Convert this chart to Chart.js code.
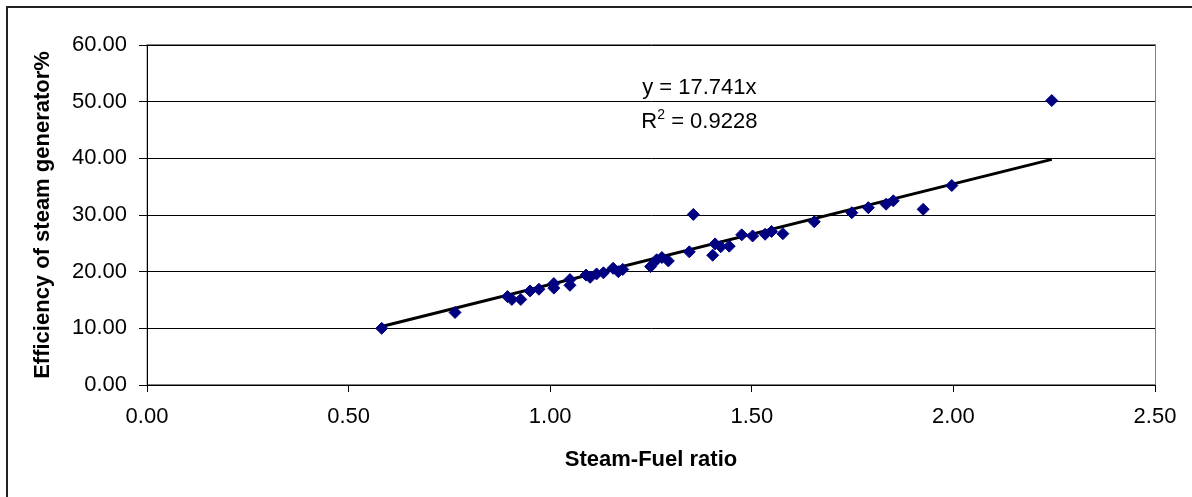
<!DOCTYPE html>
<html>
<head>
<meta charset="utf-8">
<script src="https://cdn.jsdelivr.net/npm/chart.js@4/dist/chart.umd.min.js"></script>
<style>
  body { margin: 0; background: #fff; }
  canvas { display: block; }
</style>
</head>
<body>
<canvas id="chart" width="1192" height="497"></canvas>
<script>
// steam-fuel ratio vs efficiency readings
const ratio = [0.582, 0.764, 0.894, 0.905, 0.927, 0.950, 0.972, 1.009, 1.009, 1.049,
  1.049, 1.089, 1.099, 1.115, 1.132, 1.156, 1.169, 1.180, 1.249, 1.264,
  1.277, 1.293, 1.345, 1.355, 1.403, 1.409, 1.423, 1.444, 1.475, 1.502,
  1.533, 1.549, 1.577, 1.655, 1.748, 1.789, 1.833, 1.851, 1.925, 1.996, 2.244];
const efficiency = [10.0, 12.8, 15.6, 15.1, 15.1, 16.6, 16.9, 17.9, 17.1, 18.6,
  17.6, 19.4, 19.0, 19.6, 19.8, 20.6, 20.0, 20.4, 20.9, 22.1,
  22.5, 21.9, 23.5, 30.1, 22.9, 24.9, 24.4, 24.5, 26.5, 26.3,
  26.6, 27.1, 26.7, 28.8, 30.4, 31.3, 31.9, 32.5, 31.0, 35.2, 50.2];
const slope = 17.741;
const rSquared = '0.9228';

const points = ratio.map((x, i) => ({ x: x, y: efficiency[i] }));
const xMin = Math.min(...ratio), xMax = Math.max(...ratio);
const trend = [{ x: xMin, y: slope * xMin }, { x: xMax, y: slope * xMax }];

const FONT = '"Liberation Sans", Arial, sans-serif';

// outer frame + grey plot area border
const framePlugin = {
  id: 'frame',
  beforeDraw(chart) {
    const ctx = chart.ctx, a = chart.chartArea;
    ctx.save();
    ctx.strokeStyle = '#222';
    ctx.lineWidth = 2;
    ctx.strokeRect(7, 7, 1300, 600);
    ctx.strokeStyle = '#808080';
    ctx.lineWidth = 1;
    ctx.strokeRect(a.left, a.top - 0.5, a.right - a.left + 0.5, a.bottom - a.top);
    ctx.restore();
  }
};

// trendline equation text
const eqPlugin = {
  id: 'equation',
  afterDatasetsDraw(chart) {
    const ctx = chart.ctx;
    const xs = chart.scales.x, ys = chart.scales.y;
    const cx = xs.getPixelForValue(1.37);
    ctx.save();
    ctx.fillStyle = '#000';
    ctx.textBaseline = 'middle';
    ctx.font = '22px ' + FONT;
    ctx.textAlign = 'center';
    ctx.fillText('y = ' + slope + 'x', cx, ys.getPixelForValue(52.4));
    // R² line with raised 2
    const y2 = ys.getPixelForValue(46.4);
    const wR = ctx.measureText('R').width;
    const rest = ' = ' + rSquared;
    const wRest = ctx.measureText(rest).width;
    ctx.font = '14px ' + FONT;
    const wSup = ctx.measureText('2').width;
    let x0 = cx - (wR + wSup + wRest) / 2;
    ctx.textAlign = 'left';
    ctx.font = '22px ' + FONT;
    ctx.fillText('R', x0, y2);
    ctx.font = '14px ' + FONT;
    ctx.fillText('2', x0 + wR, y2 - 7);
    ctx.font = '22px ' + FONT;
    ctx.fillText(rest, x0 + wR + wSup, y2);
    ctx.restore();
  }
};

new Chart(document.getElementById('chart'), {
  type: 'scatter',
  data: {
    datasets: [
      {
        label: 'Efficiency',
        data: points,
        pointStyle: 'rectRot',
        pointRadius: 6,
        backgroundColor: '#000080',
        borderColor: '#000080',
        borderWidth: 1
      },
      {
        label: 'Linear',
        type: 'line',
        data: trend,
        borderColor: '#000',
        borderWidth: 3,
        pointRadius: 0,
        fill: false
      }
    ]
  },
  options: {
    responsive: false,
    animation: false,
    layout: { padding: { top: 45, left: 20, right: 37, bottom: 10 } },
    plugins: {
      legend: { display: false },
      tooltip: { enabled: false }
    },
    scales: {
      x: {
        type: 'linear',
        min: 0,
        max: 2.5,
        afterFit: s => { s.height = 102; },
        border: { color: '#000', width: 1 },
        grid: { drawOnChartArea: false, color: '#000', tickLength: 7 },
        ticks: {
          stepSize: 0.5,
          padding: 12,
          color: '#000',
          font: { family: FONT, size: 22 },
          callback: v => v.toFixed(2)
        },
        title: {
          display: true,
          text: 'Steam-Fuel ratio',
          color: '#000',
          font: { family: FONT, size: 22, weight: 'bold' },
          padding: { top: 0, bottom: 14 }
        }
      },
      y: {
        min: 0,
        max: 60,
        afterFit: s => { s.width = 127; },
        border: { color: '#000', width: 1 },
        grid: { color: '#000', tickLength: 8 },
        ticks: {
          stepSize: 10,
          padding: 12,
          color: '#000',
          font: { family: FONT, size: 22 },
          callback: v => v.toFixed(2)
        },
        title: {
          display: true,
          text: 'Efficiency of steam generator%',
          color: '#000',
          font: { family: FONT, size: 22, weight: 'bold' },
          padding: { top: 10, bottom: 0 }
        }
      }
    }
  },
  plugins: [framePlugin, eqPlugin]
});
</script>
</body>
</html>
